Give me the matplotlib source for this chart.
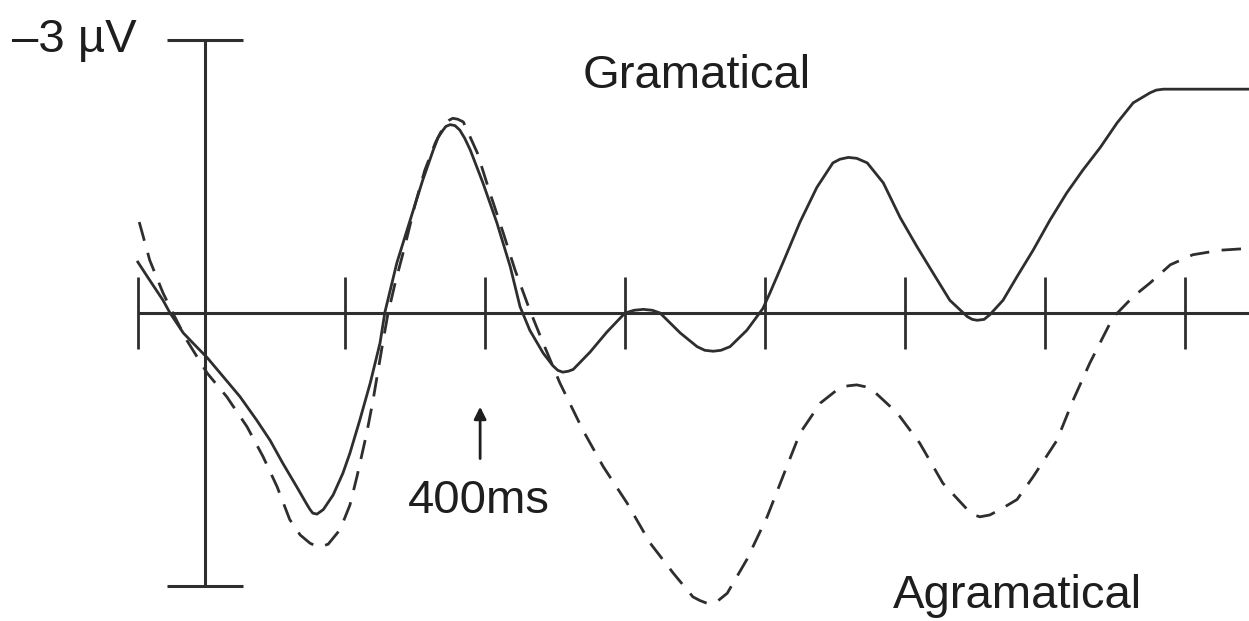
import numpy as np
import matplotlib
matplotlib.use('Agg')
import matplotlib.pyplot as plt

plt.rcParams['font.family'] = ['Liberation Sans', 'DejaVu Sans']

# ERP, onda gramatical (trazo continuo): tiempo en ms, amplitud en uV (negativo arriba)
t_gram = [-96, -79, -60, -50, -31, -11, 3, 26, 50, 74, 93, 111, 131, 146, 150, 154, 160,
          169, 183, 197, 207, 221, 236, 250, 257, 274, 293, 311, 326, 333, 340, 344, 350,
          357, 364, 371, 379, 397, 417, 436, 450, 464, 483, 497, 504, 511, 519, 526, 550,
          574, 600, 613, 626, 639, 650, 679, 703, 714, 726, 737, 750, 774, 797, 807, 826,
          850, 874, 897, 907, 919, 931, 946, 969, 993, 1017, 1040, 1064, 1089, 1096, 1103,
          1113, 1121, 1140, 1160, 1183, 1207, 1231, 1254, 1279, 1303, 1326, 1350, 1359,
          1369, 1491]
v_gram = [-0.56, -0.36, -0.14, 0.0, 0.22, 0.38, 0.49, 0.70, 0.92, 1.18, 1.40, 1.65,
          1.91, 2.11, 2.16, 2.20, 2.21, 2.16, 2.00, 1.76, 1.54, 1.18, 0.77, 0.33, -0.01,
          -0.55, -1.02, -1.46, -1.79, -1.93, -2.01, -2.05, -2.07, -2.06, -2.01, -1.92,
          -1.79, -1.43, -0.99, -0.51, -0.07, 0.19, 0.44, 0.58, 0.63, 0.65, 0.64, 0.62,
          0.43, 0.21, 0.0, -0.03, -0.04, -0.03, 0.0, 0.22, 0.37, 0.41, 0.42, 0.41, 0.37,
          0.19, -0.05, -0.22, -0.56, -1.00, -1.38, -1.65, -1.69, -1.71, -1.70, -1.65,
          -1.43, -1.05, -0.73, -0.44, -0.14, 0.04, 0.07, 0.08, 0.07, 0.02, -0.14, -0.40,
          -0.69, -1.02, -1.32, -1.57, -1.82, -2.09, -2.31, -2.42, -2.45, -2.46, -2.46]

# onda agramatical (trazo discontinuo)
t_agram = [-94, -79, -60, -46, -26, 3, 31, 60, 83, 103, 121, 136, 150, 161, 169, 176,
           193, 207, 217, 231, 240, 253, 261, 271, 286, 300, 314, 329, 343, 349, 354, 361,
           369, 389, 407, 426, 443, 464, 483, 507, 540, 569, 603, 636, 669, 697, 707, 717,
           730, 746, 774, 803, 831, 850, 879, 907, 919, 931, 943, 954, 989, 1021, 1054,
           1089, 1099, 1107, 1121, 1136, 1160, 1183, 1217, 1240, 1264, 1297, 1326, 1350,
           1379, 1411, 1450, 1491]
v_agram = [-1.00, -0.58, -0.22, 0.0, 0.30, 0.66, 0.92, 1.25, 1.58, 1.91, 2.27, 2.44,
           2.53, 2.57, 2.56, 2.54, 2.38, 2.11, 1.80, 1.32, 0.96, 0.37, 0.02, -0.31, -0.75,
           -1.19, -1.57, -1.87, -2.08, -2.12, -2.14, -2.13, -2.10, -1.76, -1.32, -0.88,
           -0.47, -0.03, 0.33, 0.77, 1.29, 1.69, 2.09, 2.53, 2.86, 3.12, 3.16, 3.19, 3.18,
           3.08, 2.71, 2.24, 1.69, 1.32, 0.99, 0.82, 0.80, 0.79, 0.81, 0.85, 1.10, 1.43,
           1.87, 2.16, 2.22, 2.24, 2.22, 2.16, 2.05, 1.80, 1.40, 0.96, 0.55, 0.05, -0.18,
           -0.33, -0.53, -0.64, -0.69, -0.71]

ticks_ms = [-96, 200, 400, 600, 800, 1000, 1200, 1400]
escala_uv = 3

ink = '#2e2e2e'
txt = '#1e1e1e'

fig = plt.figure(figsize=(12.49, 6.21), dpi=100)
ax = fig.add_axes([0, 0, 1, 1])
ax.set_xlim(-292.9, 1491.4)
ax.set_ylim(3.385, -3.44)   # negativo hacia arriba
ax.axis('off')

# eje de tiempo con marcas
ax.plot([ticks_ms[0], 1491.4], [0, 0], color=ink, lw=2.2, solid_capstyle='butt')
for t in ticks_ms:
    ax.plot([t, t], [-0.4, 0.4], color=ink, lw=2.0, solid_capstyle='butt')

# barra de escala vertical +-3 uV
ax.plot([0, 0], [-escala_uv, escala_uv], color=ink, lw=2.2, solid_capstyle='butt')
for v in (-escala_uv, escala_uv):
    ax.plot([-54, 54], [v, v], color=ink, lw=2.2, solid_capstyle='butt')

ax.plot(t_gram, v_gram, color=ink, lw=2.0, solid_joinstyle='round')
ax.plot(t_agram, v_agram, color=ink, lw=2.0, linestyle=(0, (7, 4.5)),
        dash_capstyle='butt', dash_joinstyle='round')

ax.text(-276, -2.87, '\u20133 \u00b5V', fontsize=34, color=txt, va='baseline', ha='left')
ax.text(540, -2.47, 'Gramatical', fontsize=34, color=txt, va='baseline', ha='left')
ax.text(983, 3.24, 'Agramatical', fontsize=34, color=txt, va='baseline', ha='left')
ax.text(391, 2.20, '400ms', fontsize=34, color=txt, va='baseline', ha='center')

ax.annotate('', xy=(393, 1.03), xytext=(393, 1.60),
            arrowprops=dict(arrowstyle='-|>', color=txt, lw=2.0, mutation_scale=18,
                            shrinkA=0, shrinkB=0))

fig.savefig('out.png', dpi=100, facecolor='white')
